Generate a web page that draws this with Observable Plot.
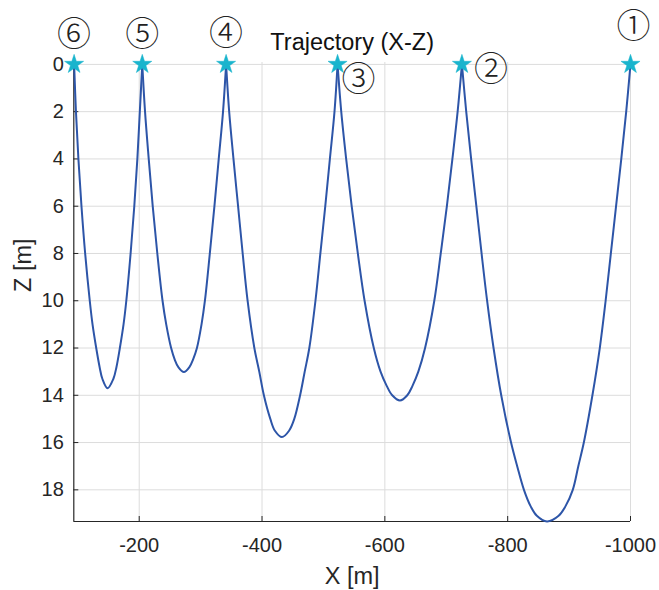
<!DOCTYPE html>
<html>
<head>
<meta charset="utf-8">
<script src="https://cdn.jsdelivr.net/npm/d3@7"></script>
<script src="https://cdn.jsdelivr.net/npm/@observablehq/plot@0.6"></script>
<style>
  html, body { margin: 0; padding: 0; background: #fff; }
</style>
</head>
<body>
<div id="chart"></div>
<script>
// ---- data (X [m], Z [m]) ----
// arc between marker 6 and marker 5
const arc65 = [[-94,0],[-97,2],[-101,4],[-106,6],[-112,8],[-119.5,10],[-124,11],[-130,12],[-135.5,12.8],[-140,13.3],[-148.5,13.7],[-158,13.3],[-163,12.8],[-168.5,12],[-174.5,11],[-179,10],[-186,8],[-192,6],[-197,4],[-201,2],[-205,0]];
// arc between marker 5 and marker 4
const arc54 = [[-205,0],[-209.5,2],[-215.5,4],[-222,6],[-229.5,8],[-238,10],[-244,11],[-252,12],[-258,12.5],[-263.5,12.8],[-272.8,13.02],[-282,12.8],[-287.5,12.5],[-294,12],[-301.5,11],[-307,10],[-315,8],[-322.5,6],[-329.5,4],[-336.5,2],[-341.5,0]];
// arc between marker 4 and marker 3
const arc43 = [[-341.5,0],[-346.5,2],[-353.5,4],[-361,6],[-368.5,8],[-376.5,10],[-387.5,12],[-395.5,13],[-403,14],[-413.5,15],[-421,15.5],[-432.5,15.77],[-444,15.5],[-452.5,15],[-462,14],[-469.5,13],[-477,12],[-487,10],[-495,8],[-503,6],[-510.5,4],[-518,2],[-523,0]];
// arc between marker 3 and marker 2
const arc32 = [[-523,0],[-529,2],[-537,4],[-546,6],[-556,8],[-567,10],[-582,12],[-593,13],[-603,13.6],[-612,14],[-624.6,14.22],[-636.5,14],[-645,13.6],[-654.5,13],[-665.5,12],[-680.5,10],[-691,8],[-701,6],[-710,4],[-718.5,2],[-725.5,0]];
// arc between marker 2 and marker 1
const arc21 = [[-725.5,0],[-732.5,2],[-740.5,4],[-749,6],[-757.5,8],[-766.5,10],[-777,12],[-789.5,14],[-805.5,16],[-815.5,17],[-826.5,18],[-837.5,18.7],[-847.5,19.1],[-864,19.34],[-883,19.1],[-894,18.7],[-906,18],[-915,17],[-924,16],[-938,14],[-950,12],[-959.5,10],[-968,8],[-976.5,6],[-985,4],[-993,2],[-1000,0]];

const markerLabels = ["①","②","③","④","⑤","⑥"];
const markerX = [-1000, -725.5, -523, -341.5, -205, -94];
const markerZ = [0, 0, 0, 0, 0, 0];

const xTicks = [-200, -400, -600, -800, -1000];
const yTicks = [0, 2, 4, 6, 8, 10, 12, 14, 16, 18];
const xDomain = [-93.5, -1000];
const zDomain = [-0.08, 19.34];

const titleText = "Trajectory (X-Z)";
const xLabel = "X [m]";
const yLabel = "Z [m]";

// ---- build tables ----
const arcs = [["6-5", arc65], ["5-4", arc54], ["4-3", arc43], ["3-2", arc32], ["2-1", arc21]];
const rows = arcs.flatMap(([name, pts]) => pts.map(([x, z]) => ({arc: name, x, z})));
const markers = markerLabels.map((t, i) => ({label: t, x: markerX[i], z: markerZ[i]}));

// label offsets (pixels) relative to each star
const labelOffset = {"①": [3, -37], "②": [29, 6], "③": [21, 16], "④": [0, -30], "⑤": [0, -29], "⑥": [0, -29]};

const W = 659, H = 590;
const mL = 73.3, mR = 29, mT = 62, mB = 69;
const innerW = W - mL - mR, innerH = H - mT - mB;
const axisColor = "#262626";
const gridColor = "#dcdcdc";
const lineColor = "#2d55a8";
const starColor = "#19b4cd";

const chart = Plot.plot({
  width: W, height: H,
  marginLeft: mL, marginRight: mR, marginTop: mT, marginBottom: mB,
  style: {fontFamily: "'Liberation Sans', Arial, Helvetica, sans-serif", color: axisColor, background: "#fff", overflow: "visible"},
  x: {domain: xDomain},
  y: {domain: zDomain, reverse: true},
  marks: [
    Plot.gridX(xTicks, {stroke: gridColor, strokeOpacity: 1, strokeWidth: 1}),
    Plot.gridY(yTicks, {stroke: gridColor, strokeOpacity: 1, strokeWidth: 1}),
    Plot.ruleX([xDomain[0]], {stroke: axisColor, strokeWidth: 1.2}),
    Plot.ruleY([zDomain[1]], {stroke: axisColor, strokeWidth: 1.2}),
    Plot.tickX(xTicks, {x: d => d, insetTop: innerH - 5, stroke: axisColor, strokeWidth: 1}),
    Plot.tickY(yTicks, {y: d => d, insetRight: innerW - 5, stroke: axisColor, strokeWidth: 1}),
    Plot.axisX(xTicks, {anchor: "bottom", tickSize: 0, tickPadding: 16, fontSize: 20, tickFormat: d => String(d), label: null}),
    Plot.axisY(yTicks, {anchor: "left", tickSize: 0, tickPadding: 10, fontSize: 20, tickFormat: d => String(d), label: null}),
    Plot.line(rows, {x: "x", y: "z", z: "arc", curve: "catmull-rom", stroke: lineColor, strokeWidth: 2}),
    Plot.dot(markers, {x: "x", y: "z", symbol: "star", r: 6, fill: starColor, stroke: starColor, strokeWidth: 0.5}),
    ...markers.map(m => Plot.text([m], {x: "x", y: "z", text: "label", dx: labelOffset[m.label][0], dy: labelOffset[m.label][1], fontSize: 34, fontWeight: 300, fontFamily: "'Noto Sans CJK JP', 'DejaVu Sans', sans-serif", fill: "#222"})),
    Plot.text([titleText], {text: d => d, frameAnchor: "top", lineAnchor: "middle", dy: -20, fontSize: 23.5, fill: "#111"}),
    Plot.text([xLabel], {text: d => d, frameAnchor: "bottom", lineAnchor: "middle", dy: 55, fontSize: 23.5, fill: axisColor}),
    Plot.text([yLabel], {text: d => d, frameAnchor: "left", dx: -50, rotate: -90, fontSize: 23.5, fill: axisColor})
  ]
});
document.getElementById("chart").appendChild(chart);
</script>
</body>
</html>
